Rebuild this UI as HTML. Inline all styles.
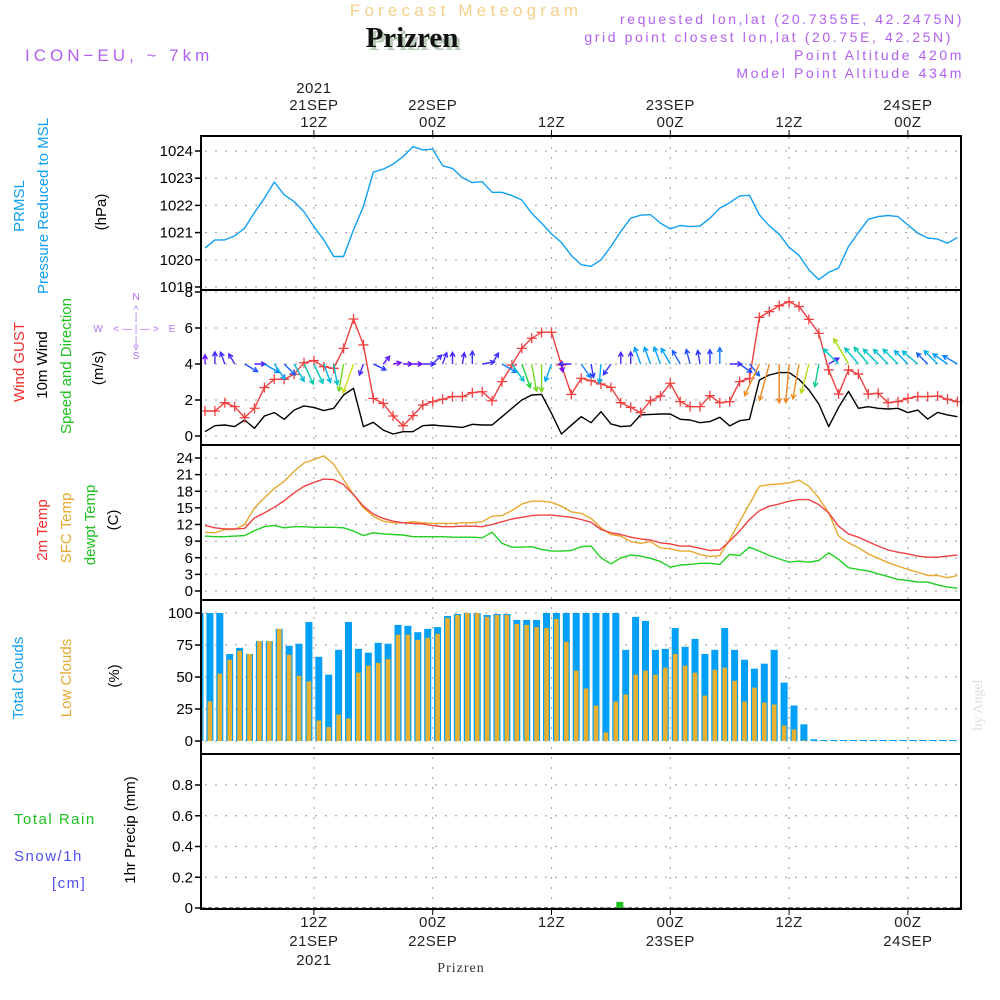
<!DOCTYPE html>
<html><head><meta charset="utf-8"><title>Forecast Meteogram Prizren</title>
<style>
html,body{margin:0;padding:0;background:#fff;}
svg{display:block;}
text{font-family:"Liberation Sans",sans-serif;}
</style></head>
<body>
<svg id="chart" width="1000" height="1000" viewBox="0 0 1000 1000" xmlns="http://www.w3.org/2000/svg">
<rect width="1000" height="1000" fill="#fff"/>
<g id="header">
  <text x="466" y="16" text-anchor="middle" font-size="17" fill="#f5d08a" letter-spacing="4.2">Forecast Meteogram</text>
  <text x="415" y="50" text-anchor="middle" font-size="29" font-weight="bold" fill="#b8ccb8" style="font-family:'Liberation Serif',serif">Prizren</text>
  <text x="412" y="47" text-anchor="middle" font-size="29" font-weight="bold" fill="#111" style="font-family:'Liberation Serif',serif">Prizren</text>
  <text x="25" y="61" font-size="17" fill="#b060f0" letter-spacing="4">ICON−EU, ~ 7km</text>
  <text x="964" y="24" text-anchor="end" font-size="14" fill="#b060f0" letter-spacing="2.6">requested lon,lat (20.7355E, 42.2475N)</text>
  <text x="953" y="42" text-anchor="end" font-size="14" fill="#b060f0" letter-spacing="2.6">grid point closest lon,lat (20.75E, 42.25N)</text>
  <text x="964" y="60" text-anchor="end" font-size="14" fill="#b060f0" letter-spacing="2.6">Point Altitude 420m</text>
  <text x="964" y="78" text-anchor="end" font-size="14" fill="#b060f0" letter-spacing="2.6">Model Point Altitude 434m</text>
</g>
<g id="grid"></g>
<g id="marks"></g>
<g id="axes"></g>
<g id="labels">
  <text transform="translate(24,206) rotate(-90)" text-anchor="middle" font-size="15" fill="#10a0f0">PRMSL</text>
  <text transform="translate(48,206) rotate(-90)" text-anchor="middle" font-size="15" fill="#10a0f0">Pressure Reduced to MSL</text>
  <text transform="translate(106,212) rotate(-90)" text-anchor="middle" font-size="15" fill="#000">(hPa)</text>
  <text transform="translate(24,362) rotate(-90)" text-anchor="middle" font-size="15" fill="#f03030">Wind GUST</text>
  <text transform="translate(47,365) rotate(-90)" text-anchor="middle" font-size="15" fill="#000">10m Wind</text>
  <text transform="translate(71,366) rotate(-90)" text-anchor="middle" font-size="15" fill="#20c020">Speed and Direction</text>
  <text transform="translate(103,368) rotate(-90)" text-anchor="middle" font-size="15" fill="#000">(m/s)</text>
  <g font-size="10" fill="#b070f0" text-anchor="middle">
    <text x="136" y="300">N</text><text x="136" y="313">^</text><text x="136" y="320">|</text>
    <text x="98" y="332">W</text><text x="136" y="332">&lt; — | — &gt;</text><text x="172" y="332">E</text>
    <text x="136" y="344">|</text><text x="136" y="350">v</text><text x="136" y="359">S</text>
  </g>
  <text transform="translate(47,530) rotate(-90)" text-anchor="middle" font-size="15" fill="#f03030">2m Temp</text>
  <text transform="translate(71,528) rotate(-90)" text-anchor="middle" font-size="15" fill="#e8a830">SFC Temp</text>
  <text transform="translate(95,525) rotate(-90)" text-anchor="middle" font-size="15" fill="#20c020">dewpt Temp</text>
  <text transform="translate(118,520) rotate(-90)" text-anchor="middle" font-size="15" fill="#000">(C)</text>
  <text transform="translate(23,678) rotate(-90)" text-anchor="middle" font-size="15" fill="#10a0f0">Total Clouds</text>
  <text transform="translate(71,678) rotate(-90)" text-anchor="middle" font-size="15" fill="#e8a830">Low Clouds</text>
  <text transform="translate(119,676) rotate(-90)" text-anchor="middle" font-size="15" fill="#000">(%)</text>
  <text x="14" y="824" font-size="15" fill="#20c020" letter-spacing="1.5">Total  Rain</text>
  <text x="14" y="861" font-size="15" fill="#5050f0" letter-spacing="1.5">Snow/1h</text>
  <text x="52" y="888" font-size="15" fill="#5050f0" letter-spacing="1.5">[cm]</text>
  <text transform="translate(135,830) rotate(-90)" text-anchor="middle" font-size="15" fill="#000">1hr Precip (mm)</text>
  <text x="461" y="972" text-anchor="middle" font-size="14" fill="#333" letter-spacing="1" style="font-family:'Liberation Serif',serif">Prizren</text>
  <text transform="translate(982,705) rotate(-90)" text-anchor="middle" font-size="14" fill="#ddd" style="font-family:'Liberation Serif',serif">by Angel</text>
</g>
</svg>
<script>
// ---- data (hourly, 01Z 21SEP .. 05Z 24SEP) ----
const pressure = [1020.43,1020.73,1020.73,1020.88,1021.16,1021.74,1022.26,1022.86,1022.39,1022.14,1021.77,1021.22,1020.73,1020.12,1020.12,1021.1,1021.96,1023.22,1023.33,1023.52,1023.79,1024.16,1024.04,1024.07,1023.46,1023.36,1023.02,1022.84,1022.87,1022.48,1022.48,1022.36,1022.2,1021.71,1021.35,1020.95,1020.64,1020.16,1019.82,1019.76,1020.0,1020.49,1021.04,1021.53,1021.64,1021.66,1021.35,1021.14,1021.26,1021.22,1021.24,1021.53,1021.9,1022.1,1022.35,1022.37,1021.65,1021.25,1020.94,1020.46,1020.16,1019.63,1019.27,1019.54,1019.7,1020.49,1021.0,1021.49,1021.59,1021.63,1021.59,1021.28,1020.98,1020.8,1020.76,1020.61,1020.82];
const gust = [1.39,1.39,1.85,1.63,1.02,1.54,2.69,3.15,3.15,3.43,4.07,4.19,3.85,3.76,4.87,6.5,5.06,2.09,1.81,1.11,0.57,1.13,1.72,1.91,2.04,2.19,2.19,2.41,2.46,1.96,3.02,3.94,4.87,5.43,5.76,5.76,3.94,2.31,3.2,3.07,2.89,2.7,1.85,1.59,1.3,1.96,2.22,2.93,1.91,1.63,1.63,2.24,1.85,1.91,3.02,3.2,6.59,6.91,7.24,7.46,7.19,6.48,5.7,3.67,2.33,3.67,3.44,2.33,2.37,1.85,1.91,2.09,2.19,2.19,2.22,2.04,1.91];
const windSpeed = [0.24,0.57,0.61,0.52,0.89,0.43,1.11,1.3,0.93,1.44,1.67,1.59,1.41,1.54,2.28,2.65,0.52,0.76,0.33,0.11,0.24,0.24,0.57,0.61,0.56,0.52,0.48,0.65,0.61,0.61,1.07,1.54,2.0,2.28,2.31,1.26,0.11,0.6,1.07,0.74,1.35,0.67,0.52,0.56,1.17,1.2,1.22,1.22,0.93,0.89,0.74,0.8,1.04,0.56,0.85,0.93,3.11,3.39,3.52,3.52,3.15,2.56,1.78,0.52,1.59,2.48,1.54,1.63,1.54,1.5,1.54,1.3,1.44,0.94,1.31,1.17,1.07];
const windDir = [0,0,340,330,120,90,120,145,135,150,155,155,160,170,190,200,200,115,40,80,90,90,90,45,20,0,10,0,80,30,120,145,160,170,180,200,170,270,145,170,185,215,0,0,340,340,340,330,330,345,350,0,0,90,125,140,205,195,180,185,190,195,190,60,315,330,320,320,315,315,315,315,310,315,315,305,300];
const temp2m = [11.8,11.4,11.2,11.2,11.3,13.2,14.1,15.1,16.3,17.7,18.9,19.6,20.2,20.1,19.2,17.4,15.3,13.9,13.1,12.6,12.3,12.2,12.1,11.8,11.6,11.6,11.7,11.7,11.6,12.0,12.5,13.0,13.3,13.6,13.7,13.7,13.5,13.3,12.9,12.4,11.1,10.5,10.2,9.7,9.4,9.2,8.7,8.5,8.1,8.1,7.7,7.3,7.4,9.0,10.8,12.9,14.5,15.3,15.7,16.2,16.5,16.5,15.6,14.1,11.7,10.3,9.7,8.9,8.1,7.4,7.0,6.7,6.3,6.1,6.1,6.3,6.5];
const sfcTemp = [10.6,10.5,11.1,11.1,12.0,15.0,16.8,18.5,19.8,21.6,23.1,23.7,24.4,22.9,20.1,17.4,15.0,13.5,12.6,12.3,12.3,12.5,12.3,12.2,12.2,12.2,12.3,12.3,12.5,13.5,13.6,14.5,15.7,16.2,16.2,16.0,15.3,14.3,14.0,13.1,11.4,10.2,9.9,8.9,8.6,8.9,7.8,7.6,7.2,7.2,6.6,6.2,6.4,9.3,12.5,15.7,18.9,19.2,19.3,19.5,20.0,18.9,16.8,14.1,9.9,8.7,7.8,6.7,5.9,5.1,4.5,3.9,3.4,2.8,2.8,2.4,2.8];
const dewpt = [9.9,9.8,9.8,9.9,10.0,10.9,11.6,11.8,11.4,11.6,11.6,11.5,11.5,11.5,11.4,10.8,10.0,10.5,10.3,10.2,10.1,9.8,9.8,9.8,9.8,9.7,9.7,9.7,9.6,10.6,8.6,7.9,7.9,8.0,7.5,7.2,7.2,7.3,8.0,8.1,6.0,4.9,6.0,6.5,6.3,5.9,5.3,4.3,4.7,4.8,5.0,5.0,4.8,6.6,6.4,7.9,7.2,6.4,5.8,5.2,5.4,5.2,5.5,6.9,5.7,4.2,3.9,3.6,3.1,2.6,2.1,1.9,1.6,1.6,1.1,0.7,0.5];
const totalClouds = [100,100,100,68,72.8,68,78,78,87.6,74.4,76,93,65.8,51.8,71.2,93,72,69,76.7,76,90.7,90,85,87.6,89,97.7,99.2,100,100,98.4,99.2,99.2,94.6,94.6,94.6,100,100,100,100,100,100,100,100,71.2,97,93.8,71.2,72,88.3,73.6,79.8,68,71.2,88.3,71.2,63.5,56.5,60.4,71.2,45.6,27.7,13,1.3,0,0,0,0,0,0,0,0,0,0,0,0,0,0];
const lowClouds = [26,31,52.6,63.5,70.5,68,78,78,87.6,67.4,51,46.6,16,10.9,20.7,17.6,53.4,58.8,61,64,83,83,79,80.6,83.7,96,98.4,100,100,97,98.4,98.4,91.5,90.7,89,88.3,95.3,77.5,55,41,27.7,6.7,30.8,36.3,51.8,55,51.8,57.3,68,58.8,53.4,35.5,55.7,57.3,47,30.8,41.7,30,28.5,12.2,9,0.5,0,0,0,0,0,0,0,0,0,0,0,0,0,0,0];
const precip = [0,0,0,0,0,0,0,0,0,0,0,0,0,0,0,0,0,0,0,0,0,0,0,0,0,0,0,0,0,0,0,0,0,0,0,0,0,0,0,0,0,0,0.04,0,0,0,0,0,0,0,0,0,0,0,0,0,0,0,0,0,0,0,0,0,0,0,0,0,0,0,0,0,0,0,0,0,0];
const pressureTicks = [1019,1020,1021,1022,1023,1024];
const windTicks = [0,2,4,6,8];
const tempTicks = [0,3,6,9,12,15,18,21,24];
const cloudTicks = [0,25,50,75,100];
const precipTicks = [0,0.2,0.4,0.6,0.8];
const timeTickHours = [11,23,35,47,59,71];
const topTickLabels = [["2021","21SEP","12Z"],["22SEP","00Z"],["12Z"],["23SEP","00Z"],["12Z"],["24SEP","00Z"]];
const bottomTickLabels = [["12Z","21SEP","2021"],["00Z","22SEP"],["12Z"],["00Z","23SEP"],["12Z"],["00Z","24SEP"]];

// ---- axes ----
const X0=201, X1=961;
const xAt = i => 205 + 9.9*i;
const yP = v => 287 - (v-1019)*27.2;
const yW = v => 436 - v*18;
const yT = v => 591 - v*(133/24);
const yC = v => 741 - v*1.28;
const yR = v => 908 - v*153.75;
const panels = [[136,290],[290,445],[445,600],[600,754],[754,909]];

const NS="http://www.w3.org/2000/svg";
function mk(tag, attrs, parent){const e=document.createElementNS(NS,tag);for(const k in attrs)e.setAttribute(k,attrs[k]);parent.appendChild(e);return e;}
const grid=document.getElementById('grid'), marks=document.getElementById('marks'), axes=document.getElementById('axes');
const dot={stroke:'#aaa','stroke-width':1.2,'stroke-dasharray':'2,8',fill:'none'};

timeTickHours.forEach(h=>{
  const x=xAt(h);
  const l=mk('line',Object.assign({x1:x,y1:137,x2:x,y2:908},dot),grid);
  
  
});
function yAxis(ticks, yf, fmt, name){
  ticks.forEach(t=>{
    const y=yf(t);
    const g=mk('line',Object.assign({x1:X0+4,y1:y,x2:X1,y2:y},dot),grid);
    
    
    mk('line',{x1:X0-6,y1:y,x2:X0,y2:y,stroke:'#000','stroke-width':1.5},axes);
    const tx=mk('text',{x:X0-8,y:y+5,'text-anchor':'end','font-size':15,fill:'#000'},axes);
    tx.textContent=fmt(t);
    
    
  });
}
yAxis(pressureTicks,yP,t=>String(t),'pressure');
yAxis(windTicks,yW,t=>String(t),'wind');
yAxis(tempTicks,yT,t=>String(t),'temp');
yAxis(cloudTicks,yC,t=>String(t),'cloud');
yAxis(precipTicks,yR,t=>t===0?'0':t.toFixed(1),'precip');

panels.forEach((p,k)=>{
  const r=mk('rect',{x:X0,y:p[0],width:X1-X0,height:p[1]-p[0],fill:'none',stroke:'#000','stroke-width':2},axes);
  
  
});
timeTickHours.forEach((h,k)=>{
  const x=xAt(h);
  mk('line',{x1:x,y1:130,x2:x,y2:136,stroke:'#000','stroke-width':1},axes);
  mk('line',{x1:x,y1:909,x2:x,y2:915,stroke:'#000','stroke-width':1},axes);
  const top=topTickLabels[k];
  top.forEach((s,j)=>{
    const t=mk('text',{x:x,y:127-(top.length-1-j)*17,'text-anchor':'middle','font-size':15,fill:'#222','letter-spacing':'0.5'},axes);
    t.textContent=s;
    
    
  });
  bottomTickLabels[k].forEach((s,j)=>{
    const t=mk('text',{x:x,y:927+j*19,'text-anchor':'middle','font-size':15,fill:'#222','letter-spacing':'0.5'},axes);
    t.textContent=s;
    
    
  });
});

function poly(vals, yf, color, name, w){
  const pts=vals.map((v,i)=>xAt(i).toFixed(1)+','+yf(v).toFixed(1)).join(' ');
  const p=mk('polyline',{points:pts,fill:'none',stroke:color,'stroke-width':w||1.4,'stroke-linejoin':'round'},marks);
  
  
}
poly(pressure,yP,'#10a0f0','pressure-line');
totalClouds.forEach((v,i)=>{
  const xc=xAt(i)-5;
  const h=Math.max(1,v*1.28);
  const xl=Math.max(X0+1,xc-3.5), xr=Math.min(X1-1,xc+3.5);
  if(xr<=xl) return;
  const r=mk('rect',{x:xl,y:741-h,width:xr-xl,height:h,fill:'#00a0f8'},marks);
  
  
});
lowClouds.forEach((v,i)=>{
  if(v<=0) return;
  const xc=xAt(i)-5;
  const h=v*1.28;
  const xl=Math.max(X0+1,xc-2.3), xr=Math.min(X1-1,xc+2.3);
  if(xr<=xl) return;
  const r=mk('rect',{x:xl,y:741-h,width:xr-xl,height:h,fill:'#e8b030'},marks);
  
  
});
mk('line',{x1:X0,y1:908,x2:X1,y2:908,stroke:'#000','stroke-width':1,'stroke-dasharray':'4,3'},marks);
precip.forEach((v,i)=>{
  if(v<=0) return;
  const xc=xAt(i)-1;
  const r=mk('rect',{x:xc-3.5,y:yR(v),width:7,height:908-yR(v),fill:'#20c020'},marks);
  
  
});
poly(sfcTemp,yT,'#e8a830','sfc-temp-line');
poly(temp2m,yT,'#f04040','temp-2m-line');
poly(dewpt,yT,'#20d020','dewpoint-line');
poly(windSpeed,yW,'#000','wind-speed-line');
poly(gust,yW,'#f04040','gust-line');
gust.forEach((v,i)=>{
  const x=xAt(i), y=yW(v);
  const m=mk('path',{d:`M${x-5},${y}H${x+5}M${x},${y-5}V${y+5}`,stroke:'#f04040','stroke-width':1.3},marks);
  
  
});
function windColor(s){
  const stops=[[0,[128,0,255]],[0.8,[40,60,255]],[1.2,[0,160,255]],[1.6,[0,200,190]],[2.0,[30,210,60]],[2.4,[150,220,20]],[2.8,[235,220,20]],[3.1,[240,140,30]],[4,[240,120,30]]];
  for(let k=1;k<stops.length;k++){
    if(s<=stops[k][0]){const a=stops[k-1],b=stops[k];const f=(s-a[0])/(b[0]-a[0]);
      const c=a[1].map((q,j)=>Math.round(q+(b[1][j]-q)*f));return `rgb(${c})`;}
  }
  return 'rgb(240,120,30)';
}
windDir.forEach((d,i)=>{
  const s=windSpeed[i];
  const len=7+s*9;
  const a=d*Math.PI/180;
  const x0=xAt(i), y0=364;
  const x1=x0+len*Math.sin(a), y1=y0-len*Math.cos(a);
  const h=5, ang=0.5;
  const bx1=x1-h*Math.sin(a-ang), by1=y1+h*Math.cos(a-ang);
  const bx2=x1-h*Math.sin(a+ang), by2=y1+h*Math.cos(a+ang);
  const p=mk('path',{d:`M${x0},${y0}L${x1},${y1}M${bx1},${by1}L${x1},${y1}L${bx2},${by2}`,stroke:windColor(s),'stroke-width':1.4,fill:'none'},marks);
  
  
});
</script>
</body></html>
